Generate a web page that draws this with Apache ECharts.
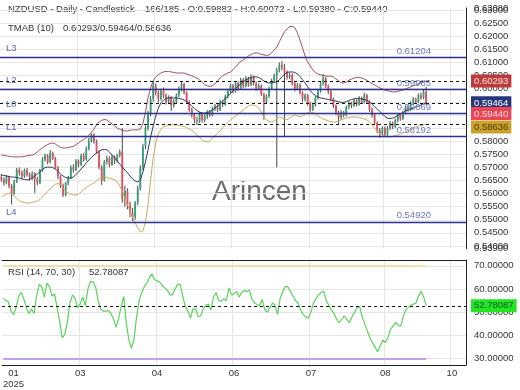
<!DOCTYPE html>
<html><head><meta charset="utf-8">
<script src="https://cdn.jsdelivr.net/npm/echarts@6/dist/echarts.min.js"></script>
<style>html,body{margin:0;padding:0;background:#fff}#c{width:520px;height:390px}</style>
</head><body><div id="c"></div>
<script>
// ---- data ----
const slotCount = 181;
const xTickIndex = [4, 30, 60, 90, 120, 149, 175];
const xTickLabels = ['01\n2025', '03', '04', '06', '07', '08', '10'];
const xGridIndex = [30, 60, 90, 120, 149, 175];

// [open, close, low, high]
const candleData = [
[.5662,.5655,.5645,.5675],[.5655,.5640,.5630,.5662],[.5640,.5662,.5635,.5670],[.5662,.5630,.5620,.5668],[.5630,.5600,.5558,.5636],
[.5600,.5645,.5595,.5652],[.5645,.5690,.5640,.5698],[.5690,.5680,.5668,.5700],[.5680,.5665,.5655,.5688],[.5665,.5690,.5660,.5695],
[.5690,.5672,.5665,.5698],[.5672,.5660,.5650,.5680],[.5660,.5678,.5652,.5685],[.5678,.5655,.5602,.5682],[.5655,.5640,.5632,.5664],
[.5640,.5690,.5636,.5695],[.5690,.5730,.5684,.5738],[.5730,.5745,.5722,.5752],[.5745,.5720,.5712,.5750],[.5720,.5755,.5715,.5766],
[.5755,.5735,.5728,.5760],[.5735,.5700,.5695,.5740],[.5700,.5665,.5655,.5705],[.5665,.5630,.5622,.5670],[.5630,.5595,.5587,.5638],
[.5595,.5640,.5590,.5645],[.5640,.5660,.5632,.5668],[.5660,.5700,.5655,.5708],[.5700,.5690,.5680,.5712],[.5690,.5725,.5686,.5732],
[.5725,.5710,.5700,.5730],[.5710,.5745,.5705,.5752],[.5745,.5730,.5722,.5755],[.5730,.5770,.5725,.5780],[.5770,.5800,.5765,.5812],
[.5800,.5825,.5795,.5830],[.5825,.5800,.5790,.5830],[.5800,.5760,.5752,.5806],[.5760,.5700,.5692,.5765],[.5700,.5650,.5633,.5708],
[.5650,.5720,.5645,.5728],[.5720,.5735,.5710,.5745],[.5735,.5710,.5700,.5742],[.5710,.5740,.5705,.5748],[.5740,.5725,.5712,.5745],
[.5725,.5745,.5718,.5752],[.5745,.5760,.5738,.5768],[.5760,.5580,.5565,.5850],[.5580,.5610,.5550,.5630],[.5610,.5555,.5540,.5620],
[.5555,.5525,.5510,.5570],[.5525,.5510,.5495,.5545],[.5510,.5565,.5500,.5572],[.5565,.5620,.5555,.5630],[.5620,.5700,.5612,.5708],
[.5700,.5780,.5690,.5790],[.5780,.5850,.5770,.5860],[.5850,.5905,.5840,.5915],[.5905,.5960,.5895,.5972],[.5960,.6012,.5950,.6030],
[.6012,.5985,.5975,.6020],[.5985,.5960,.5948,.5992],[.5960,.5992,.5955,.6000],[.5992,.5975,.5965,.6005],[.5975,.5950,.5940,.5982],
[.5950,.5968,.5944,.5975],[.5968,.5935,.5915,.5972],[.5935,.5952,.5928,.5960],[.5952,.5975,.5945,.5982],[.5975,.6000,.5968,.6008],
[.6000,.6018,.5990,.6028],[.6018,.5985,.5978,.6022],[.5985,.5950,.5942,.5990],[.5950,.5920,.5912,.5956],[.5920,.5900,.5890,.5928],
[.5900,.5880,.5868,.5906],[.5880,.5875,.5862,.5892],[.5875,.5905,.5870,.5912],[.5905,.5880,.5870,.5910],[.5880,.5895,.5872,.5902],
[.5895,.5912,.5885,.5918],[.5912,.5900,.5892,.5920],[.5900,.5925,.5895,.5932],[.5925,.5935,.5915,.5942],[.5935,.5920,.5912,.5940],
[.5920,.5950,.5915,.5958],[.5950,.5940,.5930,.5956],[.5940,.5970,.5935,.5978],[.5970,.5990,.5962,.5998],[.5990,.6012,.5982,.6020],
[.6012,.5990,.5982,.6018],[.5990,.6022,.5985,.6030],[.6022,.6000,.5992,.6028],[.6000,.6035,.5995,.6042],[.6035,.6010,.6002,.6040],
[.6010,.6040,.6005,.6048],[.6040,.6015,.6008,.6045],[.6015,.6045,.6010,.6055],[.6045,.6020,.6012,.6050],[.6020,.6000,.5992,.6028],
[.6000,.6012,.5994,.6020],[.6012,.5980,.5972,.6016],[.5980,.5950,.5882,.5985],[.5950,.5972,.5945,.5978],[.5972,.6002,.5965,.6008],
[.6002,.6030,.5995,.6038],[.6030,.6050,.6022,.6058],[.6050,.6072,.5700,.6080],[.6072,.6090,.6062,.6100],[.6090,.6080,.6070,.6105],
[.6080,.6062,.5815,.6095],[.6062,.6045,.6035,.6070],[.6045,.6052,.6036,.6062],[.6052,.6020,.6012,.6058],[.6020,.6000,.5990,.6026],
[.6000,.6015,.5994,.6022],[.6015,.5985,.5978,.6020],[.5985,.5960,.5950,.5990],[.5960,.5975,.5952,.5982],[.5975,.5945,.5936,.5980],
[.5945,.5920,.5912,.5950],[.5920,.5940,.5915,.5946],[.5940,.5965,.5932,.5972],[.5965,.5990,.5958,.5998],[.5990,.6020,.5985,.6028],
[.6020,.6040,.6012,.6055],[.6040,.6010,.6002,.6046],[.6010,.5990,.5980,.6016],[.5990,.5960,.5952,.5995],[.5960,.5935,.5926,.5966],
[.5935,.5910,.5900,.5940],[.5910,.5890,.5862,.5916],[.5890,.5910,.5882,.5918],[.5910,.5900,.5890,.5915],[.5900,.5930,.5895,.5936],
[.5930,.5945,.5922,.5952],[.5945,.5935,.5926,.5950],[.5935,.5955,.5930,.5962],[.5955,.5940,.5932,.5960],[.5940,.5965,.5935,.5972],
[.5965,.5950,.5942,.5970],[.5950,.5975,.5944,.5985],[.5975,.5950,.5942,.5980],[.5950,.5920,.5912,.5955],[.5920,.5900,.5890,.5926],
[.5900,.5870,.5862,.5905],[.5870,.5840,.5830,.5876],[.5840,.5830,.5812,.5850],[.5830,.5850,.5822,.5856],[.5850,.5825,.5815,.5856],
[.5825,.5850,.5820,.5858],[.5850,.5870,.5842,.5876],[.5870,.5855,.5846,.5875],[.5855,.5880,.5850,.5886],[.5880,.5900,.5872,.5906],
[.5900,.5885,.5878,.5906],[.5885,.5910,.5880,.5916],[.5910,.5930,.5902,.5936],[.5930,.5920,.5912,.5938],[.5920,.5945,.5915,.5952],
[.5945,.5960,.5938,.5968],[.5960,.5950,.5942,.5966],[.5950,.5975,.5945,.5982],[.5975,.5965,.5958,.5985],[.5965,.5988,.5960,.5998],
[.59882,.59440,.59380,.60072]
];

const tmabUpper = [.5747,.5746,.5744,.5742,.5740,.5740,.5740,.5740,.5740,.5742,.5744,.5746,.5747,.5751,.5759,.5767,.5774,.5782,.5787,.5791,
.5793,.5789,.5782,.5776,.5774,.5774,.5776,.5778,.5780,.5787,.5793,.5801,.5806,.5814,.5823,.5833,.5846,.5862,.5873,.5879,
.5883,.5881,.5873,.5866,.5858,.5850,.5845,.5841,.5839,.5839,.5841,.5843,.5843,.5843,.5846,.5866,.5911,.5965,.6003,.6030,
.6045,.6053,.6060,.6064,.6066,.6066,.6064,.6062,.6060,.6060,.6060,.6060,.6056,.6053,.6049,.6045,.6041,.6034,.6024,.6016,
.6011,.6009,.6011,.6018,.6030,.6041,.6049,.6055,.6060,.6064,.6072,.6083,.6095,.6104,.6110,.6117,.6125,.6131,.6135,.6137,
.6135,.6131,.6129,.6127,.6129,.6137,.6148,.6159,.6179,.6198,.6217,.6228,.6237,.6238,.6233,.6213,.6186,.6156,.6125,.6102,
.6087,.6072,.6062,.6056,.6053,.6051,.6049,.6047,.6049,.6045,.6037,.6030,.6022,.6022,.6026,.6032,.6037,.6041,.6043,.6043,
.6041,.6037,.6032,.6026,.6020,.6014,.6009,.6003,.5999,.5995,.5992,.5990,.5988,.5988,.5990,.5992,.5995,.5999,.6003,.6007,
.6011,.6014,.6018,.6022,.6026,.60293];
const tmabMid = [.5671,.5669,.5667,.5665,.5663,.5663,.5661,.5659,.5656,.5654,.5652,.5654,.5659,.5667,.5675,.5682,.5692,.5699,.5701,.5701,
.5699,.5694,.5684,.5675,.5667,.5661,.5659,.5659,.5663,.5673,.5682,.5694,.5705,.5717,.5728,.5738,.5747,.5755,.5761,.5767,
.5768,.5767,.5759,.5747,.5736,.5725,.5713,.5701,.5690,.5679,.5667,.5656,.5648,.5644,.5652,.5682,.5721,.5767,.5816,.5858,
.5896,.5926,.5946,.5957,.5963,.5965,.5965,.5965,.5965,.5963,.5961,.5957,.5951,.5944,.5934,.5925,.5917,.5911,.5907,.5907,
.5909,.5913,.5919,.5926,.5934,.5944,.5953,.5963,.5972,.5982,.5992,.6001,.6011,.6018,.6026,.6034,.6039,.6043,.6045,.6045,
.6043,.6037,.6030,.6024,.6022,.6022,.6024,.6026,.6034,.6045,.6056,.6062,.6064,.6064,.6062,.6056,.6047,.6035,.6022,.6007,
.5993,.5982,.5974,.5969,.5965,.5963,.5961,.5959,.5957,.5955,.5953,.5950,.5948,.5948,.5951,.5955,.5959,.5961,.5963,.5963,
.5961,.5959,.5955,.5950,.5942,.5932,.5923,.5913,.5904,.5894,.5888,.5886,.5888,.5892,.5898,.5904,.5909,.5915,.5919,.5923,
.5926,.5930,.5934,.5938,.5942,.59464];
const tmabLower = [.5587,.5593,.5598,.5602,.5598,.5591,.5581,.5573,.5568,.5566,.5564,.5564,.5566,.5568,.5572,.5577,.5587,.5598,.5608,.5618,
.5627,.5636,.5638,.5633,.5621,.5610,.5602,.5598,.5595,.5595,.5598,.5606,.5616,.5623,.5629,.5635,.5640,.5648,.5656,.5661,
.5663,.5661,.5659,.5656,.5652,.5644,.5629,.5610,.5583,.5556,.5534,.5511,.5488,.5469,.5453,.5457,.5492,.5556,.5652,.5736,
.5793,.5827,.5846,.5854,.5858,.5860,.5862,.5862,.5862,.5860,.5858,.5856,.5852,.5846,.5841,.5833,.5823,.5814,.5804,.5799,
.5797,.5801,.5812,.5822,.5829,.5839,.5850,.5862,.5871,.5881,.5888,.5896,.5904,.5911,.5919,.5926,.5934,.5938,.5938,.5934,
.5926,.5911,.5892,.5881,.5875,.5873,.5877,.5885,.5892,.5890,.5885,.5881,.5888,.5896,.5900,.5896,.5892,.5896,.5904,.5909,
.5911,.5909,.5904,.5896,.5890,.5885,.5881,.5877,.5875,.5873,.5873,.5877,.5881,.5885,.5888,.5890,.5892,.5892,.5892,.5890,
.5888,.5885,.5881,.5873,.5862,.5850,.5839,.5829,.5823,.5818,.5816,.5816,.5818,.5822,.5823,.5827,.5831,.5835,.5841,.5846,
.5850,.5854,.5858,.5860,.5862,.58636];
const rsiValues = [56,55,54.5,50.5,49,52,57,58.5,55.8,52,49.3,51.5,49.5,57,62,61,56.5,62.5,61,57,
57.9,52,46,39,40.5,46,54,57.5,56,52,53.5,56.6,52.8,60,63.3,63,61,55,51.3,50.5,
50.5,50.7,49.5,47,43.5,47.5,52.5,56.8,45,38,34.5,38.5,48,55,58.5,61,62.5,65,66.5,64,
63.5,63,61.5,60.5,59.5,57.5,57.5,60,62,62,57,52.5,50.5,47.5,51.5,51.5,48.2,48.4,51.5,53,
53.5,51,56.5,58.5,55,54.8,55.8,55,60.5,57.5,58,59,56.6,58.5,59.3,59,59.5,55.5,54,53.3,
52.8,55.5,51,50,52,54,53,49,56,59,61,61,59,57,55,54,51,49,48,47.5,
50,54,56,57.5,58.5,59,55,53,51,49.5,47,45.5,47,48.5,47,45.5,48,50,52,52.5,
48,45,42,39,37,35,33,35.5,38,37,39,42.5,44,45.5,44.5,44,48,51,52,53,
53.5,54,57,59,56.5,52.78087];

const levels = [
  {name: 'L3', value: 0.61204}, {name: 'L2', value: 0.59985}, {name: 'L0', value: 0.59069},
  {name: 'L1', value: 0.58192}, {name: 'L4', value: 0.54920}
];
const priceTags = [
  {value: 0.60293, bg: '#c0393b', fg: '#ffe8e8', shift: 0},
  {value: 0.59464, bg: '#27377a', fg: '#ffffff', shift: 0},
  {value: 0.59440, bg: '#ee4455', fg: '#ffe0e0', shift: 20},
  {value: 0.58636, bg: '#c9a227', fg: '#4a3800', shift: 5}
];
const priceMin = 0.539, priceMax = 0.6308;
const rsiNow = 52.78087;
const rsiUpper = 70, rsiLower = 30;

// ---- chart ----
const categories = Array.from({length: slotCount}, (_, i) => String(i));
const FONT = "'Liberation Sans', Arial, sans-serif";
const FS = 9.5;
const GREEN = '#37a078', RED = '#e2505f';

function renderCandle(params, api) {
  const i = api.value(0);
  const o = api.value(1), c = api.value(2), l = api.value(3), h = api.value(4);
  const pO = api.coord([i, o]), pC = api.coord([i, c]);
  const pL = api.coord([i, l]), pH = api.coord([i, h]);
  const w = api.size([1, 0])[0] * 0.72;
  const x = pO[0];
  const top = Math.min(pO[1], pC[1]);
  const bh = Math.max(Math.abs(pO[1] - pC[1]), 1);
  return {
    type: 'group',
    children: [
      {type: 'line', shape: {x1: x, y1: pH[1], x2: x, y2: pL[1]}, style: {stroke: '#4a4a4a', lineWidth: 1}},
      {type: 'rect', shape: {x: x - w / 2, y: top, width: w, height: bh}, style: {fill: c >= o ? GREEN : RED}}
    ]
  };
}

const mainMarks = [];
levels.forEach(L => {
  mainMarks.push({yAxis: L.value, lineStyle: {color: '#2c3190', width: 1.3, type: 'solid'},
    label: {show: true, position: 'insideStartTop', formatter: L.name, distance: [6, 4], color: '#5a68b4', fontSize: FS, fontFamily: FONT}});
  mainMarks.push({yAxis: L.value, lineStyle: {color: 'rgba(0,0,0,0)', width: 0.1},
    label: {show: true, position: 'insideEndTop', formatter: L.value.toFixed(5), distance: [35, 1], color: '#6b7bc4', fontSize: FS, fontFamily: FONT}});
});
priceTags.forEach(t => {
  mainMarks.push({yAxis: t.value, lineStyle: {color: '#111', width: 1, type: [3, 3]},
    label: {show: true, position: 'end', distance: 5,
      formatter: '{e|}\n{v|' + t.value.toFixed(5) + '}',
      rich: {e: {height: t.shift}, v: {backgroundColor: t.bg, color: t.fg, padding: [2, 3, 1, 3], fontSize: FS, fontFamily: FONT}}}});
});
[priceMin, priceMax].forEach(v => {
  mainMarks.push({yAxis: v, lineStyle: {color: 'rgba(0,0,0,0)', width: 0.1},
    label: {show: true, position: 'end', distance: 8, formatter: v.toFixed(5), color: '#333', fontSize: FS, fontFamily: FONT}});
});

const rsiMarks = [
  [{coord: [0, rsiUpper], lineStyle: {color: '#f1e0a6', width: 2, type: 'solid'}, label: {show: false}},
   {coord: [rsiValues.length - 1, rsiUpper]}],
  [{coord: [0, rsiLower], lineStyle: {color: '#c3a2ea', width: 2, type: 'solid'}, label: {show: false}},
   {coord: [rsiValues.length - 1, rsiLower]}],
  {yAxis: rsiNow, lineStyle: {color: '#111', width: 1, type: [3, 3]},
    label: {show: true, position: 'end', distance: 5, formatter: rsiNow.toFixed(5),
      backgroundColor: '#22e622', color: '#0b5a2a', padding: [2, 3, 1, 3], fontSize: FS, fontFamily: FONT}}
];

const txt = (s, left, top, extra) => Object.assign({type: 'text', left, top,
  style: {text: s, font: FS + 'px ' + FONT, fill: '#333'}}, extra || {});

const option = {
  animation: false,
  textStyle: {fontFamily: FONT},
  grid: [
    {left: 0, right: 54, top: 8, height: 240.6},
    {left: 0, right: 54, top: 260, height: 108}
  ],
  graphic: [
    txt('NZDUSD - Daily - Candlestick', 8, 4),
    txt('166/185 - O:0.59882 - H:0.60072 - L:0.59380 - C:0.59440', 145, 4),
    txt('TMAB (10)', 8, 23),
    txt('0.60293/0.59464/0.58636', 63, 23),
    txt('RSI (14, 70, 30)', 8, 267),
    txt(rsiNow.toFixed(5), 89, 267),
    {type: 'text', left: 212, top: 178, z: -1, style: {text: 'Arincen', font: '28px ' + FONT, fill: '#6c6c6c'}}
  ],
  xAxis: [
    {type: 'category', gridIndex: 0, data: categories, axisLine: {show: false}, axisTick: {show: false}, axisLabel: {show: false},
      splitLine: {show: true, interval: (i) => xGridIndex.includes(i), lineStyle: {color: '#e6e6e6'}}},
    {type: 'category', gridIndex: 1, data: categories, axisLine: {show: true, lineStyle: {color: '#222'}}, axisTick: {show: false},
      axisLabel: {interval: (i) => xTickIndex.includes(i), formatter: (v) => xTickLabels[xTickIndex.indexOf(Number(v))] || '',
        color: '#333', fontSize: FS, margin: 3, lineHeight: 11},
      splitLine: {show: true, interval: (i) => xGridIndex.includes(i), lineStyle: {color: '#e6e6e6'}}},
    {type: 'category', gridIndex: 1, position: 'top', data: categories, axisLine: {show: true, lineStyle: {color: '#222'}},
      axisTick: {show: false}, axisLabel: {show: false}, splitLine: {show: false}}
  ],
  yAxis: [
    {type: 'value', gridIndex: 0, position: 'right', min: priceMin, max: priceMax, splitNumber: 18,
      axisLine: {show: true, lineStyle: {color: '#222'}}, axisTick: {show: false},
      axisLabel: {formatter: (v) => v.toFixed(5), color: '#333', fontSize: FS, margin: 8, showMinLabel: false, showMaxLabel: false},
      splitLine: {showMinLine: false, showMaxLine: false, lineStyle: {color: '#e6e6e6'}}},
    {type: 'value', gridIndex: 1, position: 'right', min: 27.3, max: 72.5, splitNumber: 4,
      axisLine: {show: true, lineStyle: {color: '#222'}}, axisTick: {show: false},
      axisLabel: {formatter: (v) => v.toFixed(5), color: '#333', fontSize: FS, margin: 8, showMinLabel: false, showMaxLabel: false},
      splitLine: {showMinLine: false, showMaxLine: false, lineStyle: {color: '#e6e6e6'}}}
  ],
  series: [
    {type: 'custom', xAxisIndex: 0, yAxisIndex: 0, renderItem: renderCandle, z: 2,
      encode: {x: 0, y: [1, 2, 3, 4]},
      data: candleData.map((d, i) => [i, d[0], d[1], d[2], d[3]])},
    {type: 'line', xAxisIndex: 0, yAxisIndex: 0, data: tmabUpper, symbol: 'none', z: 3,
      lineStyle: {color: '#a1505f', width: 1}},
    {type: 'line', xAxisIndex: 0, yAxisIndex: 0, data: tmabMid, symbol: 'none', z: 3,
      lineStyle: {color: '#2c3b5e', width: 1}},
    {type: 'line', xAxisIndex: 0, yAxisIndex: 0, data: tmabLower, symbol: 'none', z: 3,
      lineStyle: {color: '#c8aa58', width: 1},
      markLine: {silent: true, symbol: ['none', 'none'], animation: false, precision: 5, data: mainMarks}},
    {type: 'line', xAxisIndex: 1, yAxisIndex: 1, data: rsiValues, symbol: 'none', z: 3,
      lineStyle: {color: '#5ad35a', width: 1.2},
      markLine: {silent: true, symbol: ['none', 'none'], animation: false, precision: 5, data: rsiMarks}}
  ]
};
const chart = echarts.init(document.getElementById('c'), null, {renderer: 'canvas'});
chart.setOption(option);
</script>
</body></html>
